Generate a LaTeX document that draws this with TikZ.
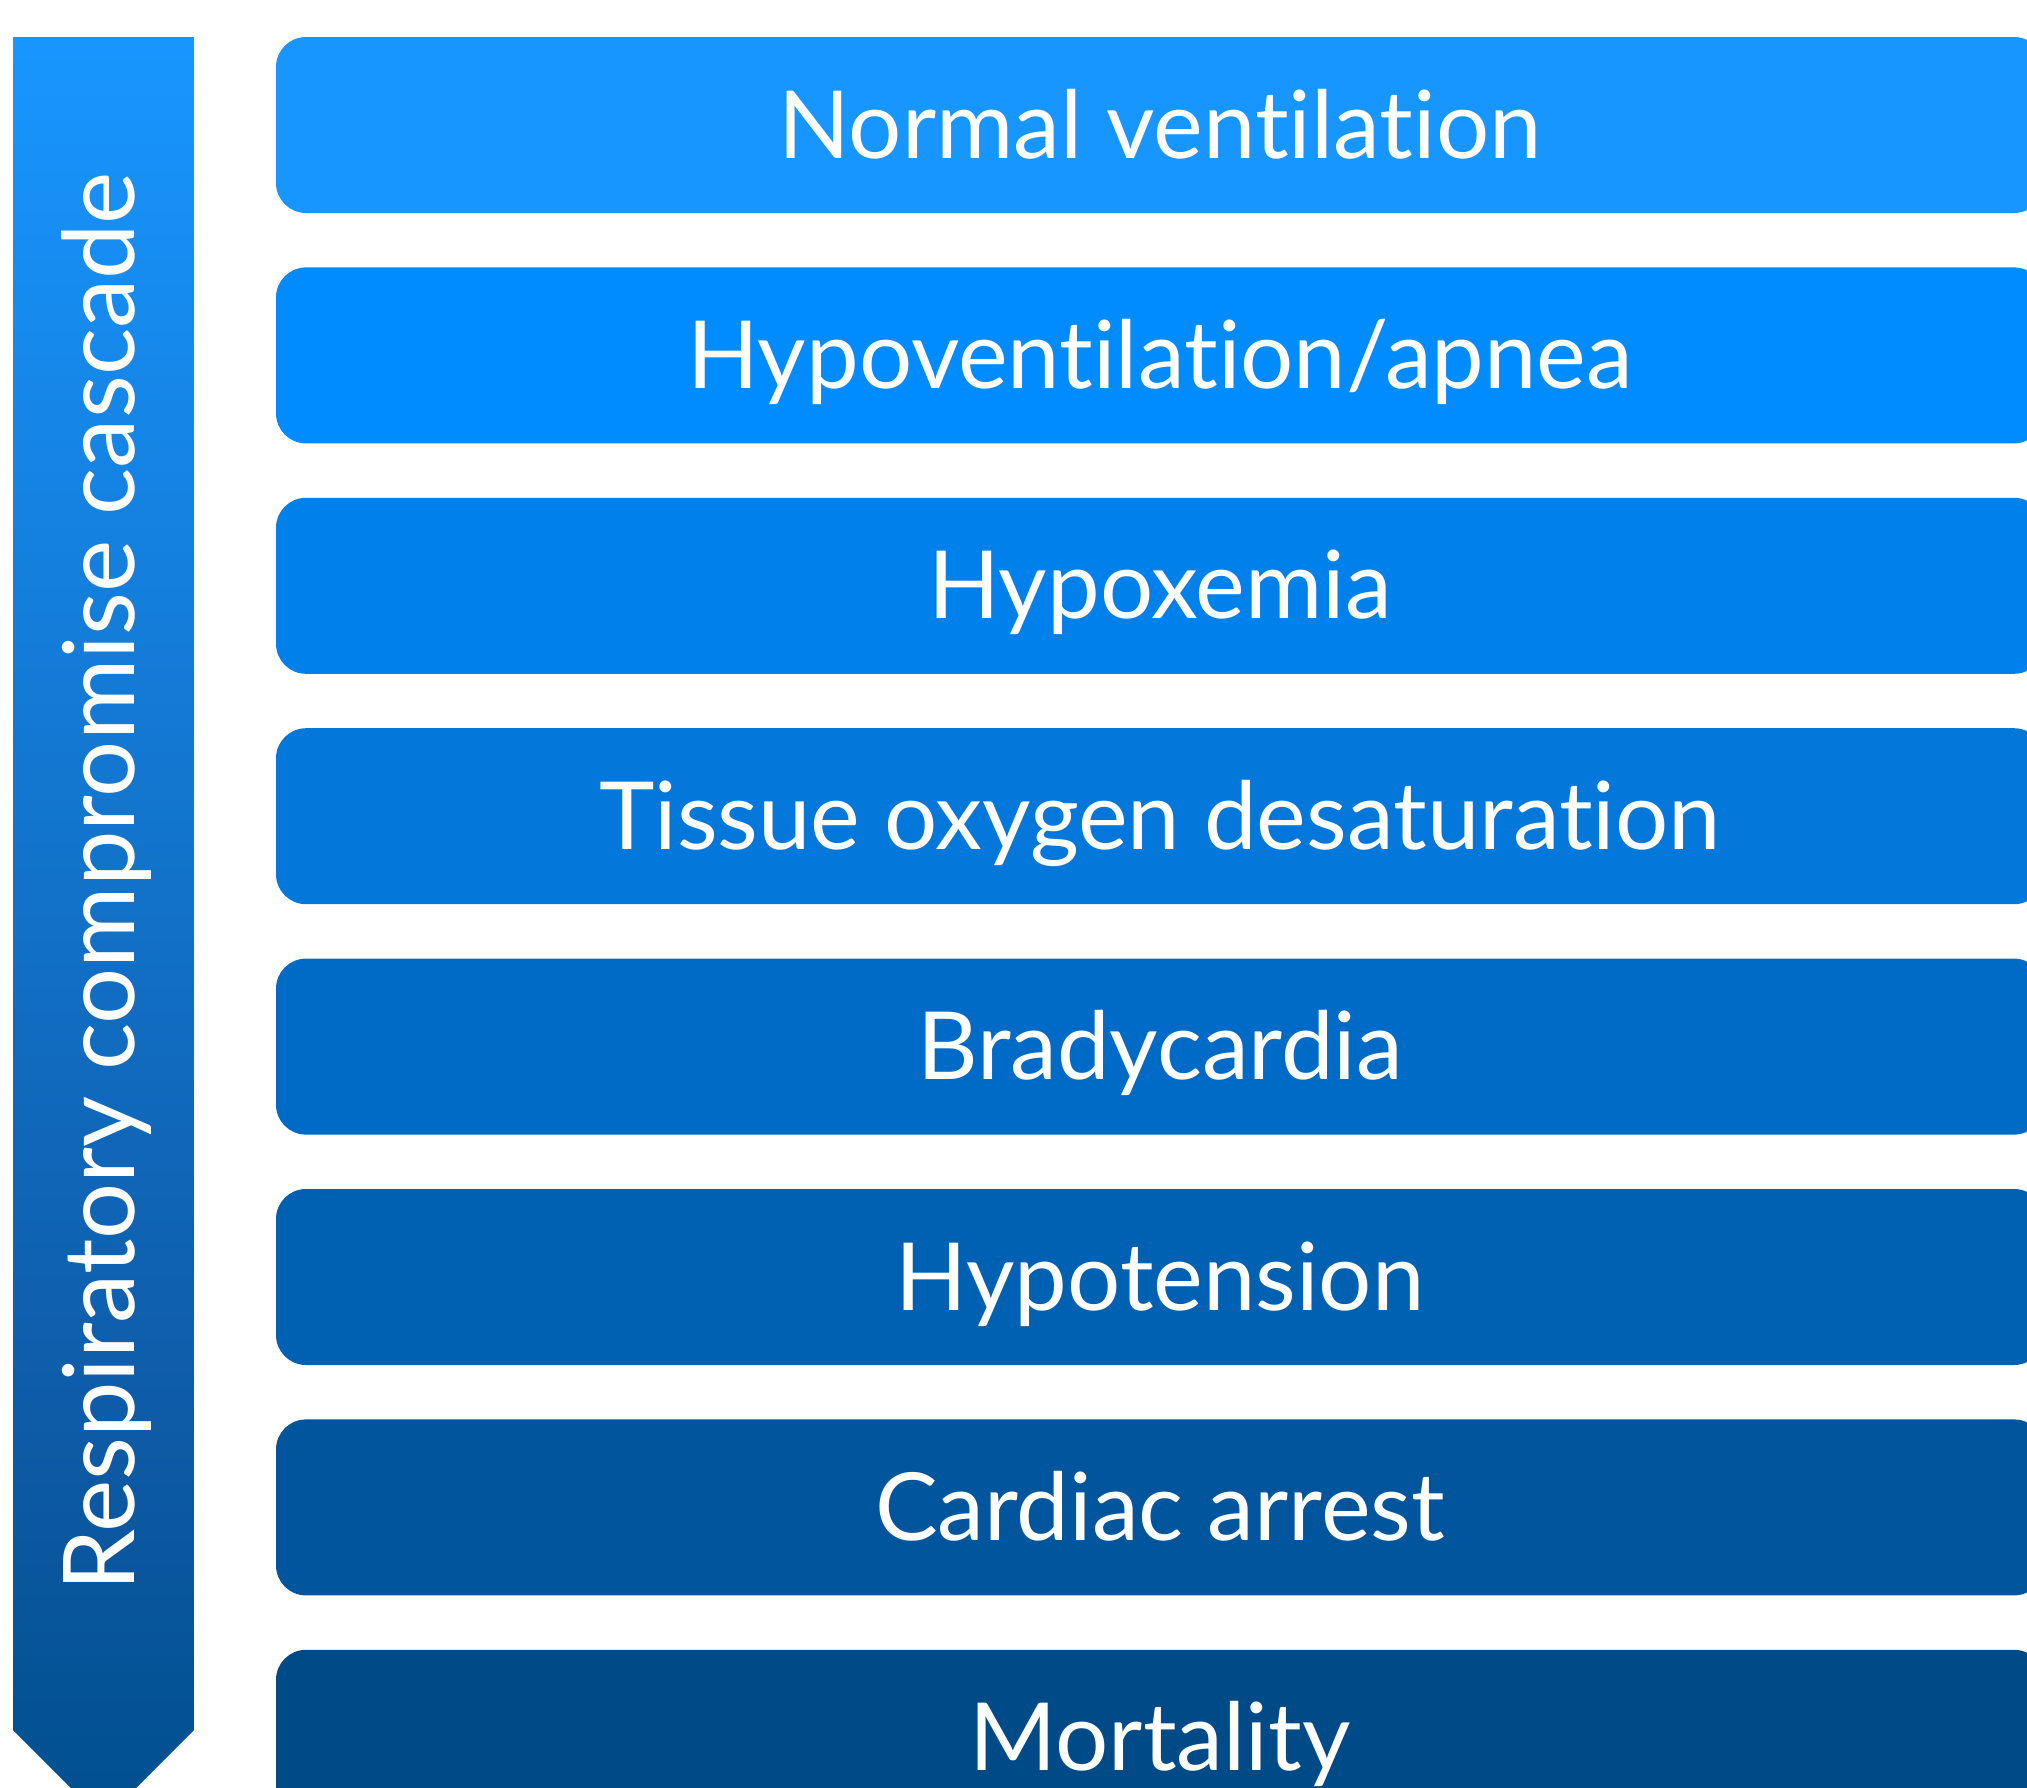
\documentclass[tikz,border=0pt]{standalone}
\usepackage{fontspec}
\setmainfont[Ligatures=NoCommon]{Lato}
\usepackage{xcolor}
\usepackage{tikz}
\usetikzlibrary{positioning, calc}

\definecolor{stageA}{RGB}{24,150,255}
\definecolor{stageB}{RGB}{0,140,255}
\definecolor{stageC}{RGB}{0,128,235}
\definecolor{stageD}{RGB}{3,119,218}
\definecolor{stageE}{RGB}{0,107,198}
\definecolor{stageF}{RGB}{0,96,177}
\definecolor{stageG}{RGB}{0,85,157}
\definecolor{stageH}{RGB}{0,74,135}
\definecolor{arrowMid}{RGB}{14,90,166}
\definecolor{arrowLow}{RGB}{0,79,142}

\begin{document}
\begin{tikzpicture}[
    x=1pt, y=-1pt,
    node distance=54pt,
    stage/.style={rectangle, rounded corners=30pt, fill=stageA, text=white,
        minimum width=1768pt, minimum height=176pt, inner sep=0pt,
        text height=66pt, text depth=0pt,
        font=\fontsize{94}{100}\selectfont},
    cascade/.style={text=white, rotate=90, anchor=base, inner sep=0pt,
        font=\fontsize{99}{100}\selectfont}
]

\useasboundingbox (0,0) rectangle (2027,1788);
\clip (0,0) rectangle (2027,1788);

% Cascade arrow
\begin{scope}
    \clip (13,37) -- (194,37) -- (194,1730) -- (103.5,1820.5) -- (13,1730) -- cycle;
    \shade[top color=stageA, bottom color=arrowMid] (13,37) rectangle (194,1443);
    \shade[top color=arrowMid, bottom color=arrowLow] (13,1443) rectangle (194,1821);
\end{scope}
\node[cascade] (label) at (134,882) {Respiratory compromise cascade};

% Stages
\node[stage] (normal) at (1160,125) {Normal ventilation};
\node[stage, below=of normal, fill=stageB] (hypovent) {Hypoventilation/apnea};
\node[stage, below=of hypovent, fill=stageC] (hypox) {Hypoxemia};
\node[stage, below=of hypox, fill=stageD] (tissue) {Tissue oxygen desaturation};
\node[stage, below=of tissue, fill=stageE] (brady) {Bradycardia};
\node[stage, below=of brady, fill=stageF] (hypot) {Hypotension};
\node[stage, below=of hypot, fill=stageG] (arrest) {Cardiac arrest};
\node[stage, below=of arrest, fill=stageH] (mortal) {Mortality};

\end{tikzpicture}
\end{document}
